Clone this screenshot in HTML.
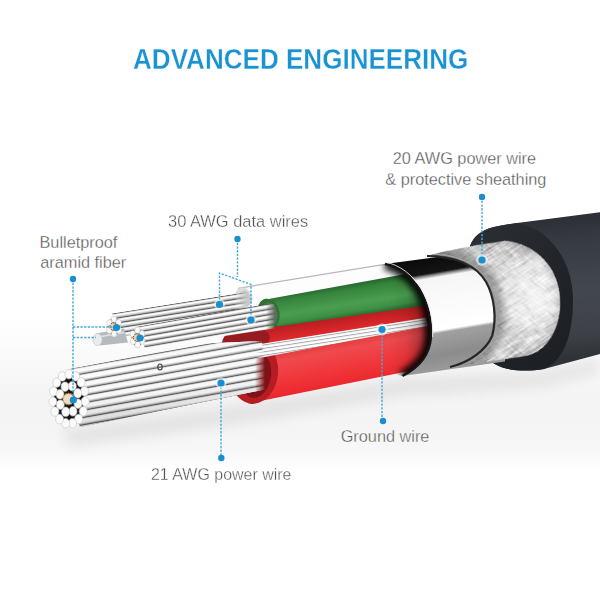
<!DOCTYPE html>
<html><head><meta charset="utf-8">
<style>
html,body{margin:0;padding:0;background:#fff;}
body{width:600px;height:600px;overflow:hidden;position:relative;font-family:"Liberation Sans",sans-serif;}
svg{position:absolute;left:0;top:0;}
.t{position:absolute;color:#555;-webkit-text-stroke:0.3px #fff;font-size:16.3px;white-space:nowrap;line-height:1;transform-origin:0 0;}
h1{position:absolute;margin:0;font-weight:bold;-webkit-text-stroke:0.3px #fff;color:#1a93d3;font-size:29px;white-space:nowrap;line-height:1;transform-origin:0 0;}
</style></head>
<body>
<svg width="600" height="600" viewBox="0 0 600 600">
<defs>
  <linearGradient id="bg" gradientUnits="userSpaceOnUse" x1="0" y1="0" x2="0" y2="600">
    <stop offset="0" stop-color="#ffffff"/>
    <stop offset="0.53" stop-color="#ffffff"/>
    <stop offset="0.6" stop-color="#f9f9f9"/>
    <stop offset="0.67" stop-color="#f4f4f4"/>
    <stop offset="0.72" stop-color="#f5f5f5"/>
    <stop offset="0.755" stop-color="#f8f8f8"/>
    <stop offset="0.772" stop-color="#fcfcfc"/>
    <stop offset="0.785" stop-color="#ffffff"/>
    <stop offset="1" stop-color="#ffffff"/>
  </linearGradient>
  <filter id="blur6" x="-20%" y="-50%" width="140%" height="200%"><feGaussianBlur stdDeviation="7"/></filter>
  <linearGradient id="jk" gradientUnits="userSpaceOnUse" x1="570" y1="211" x2="582" y2="357">
    <stop offset="0" stop-color="#2a2d33"/>
    <stop offset="0.2" stop-color="#363a41"/>
    <stop offset="0.55" stop-color="#43474e"/>
    <stop offset="0.85" stop-color="#3d4147"/>
    <stop offset="1" stop-color="#2f3237"/>
  </linearGradient>
  <linearGradient id="jface" gradientUnits="userSpaceOnUse" x1="480" y1="230" x2="570" y2="330">
    <stop offset="0" stop-color="#2b2e34"/>
    <stop offset="0.5" stop-color="#222529"/>
    <stop offset="1" stop-color="#1d2024"/>
  </linearGradient>
  <linearGradient id="br" gradientUnits="userSpaceOnUse" x1="490" y1="243" x2="505" y2="362">
    <stop offset="0" stop-color="#a6a6a6"/>
    <stop offset="0.2" stop-color="#cacaca"/>
    <stop offset="0.5" stop-color="#dcdcdc"/>
    <stop offset="0.8" stop-color="#cbcbcb"/>
    <stop offset="1" stop-color="#a2a2a2"/>
  </linearGradient>
  <linearGradient id="brx" gradientUnits="userSpaceOnUse" x1="440" y1="0" x2="560" y2="0">
    <stop offset="0" stop-color="#000" stop-opacity="0.22"/>
    <stop offset="0.3" stop-color="#000" stop-opacity="0.04"/>
    <stop offset="0.75" stop-color="#fff" stop-opacity="0.12"/>
    <stop offset="1" stop-color="#fff" stop-opacity="0.05"/>
  </linearGradient>
  <linearGradient id="foil" gradientUnits="userSpaceOnUse" x1="436" y1="255" x2="455.5" y2="370">
    <stop offset="0" stop-color="#0a0a0a"/>
    <stop offset="0.145" stop-color="#141414"/>
    <stop offset="0.165" stop-color="#8a8a8a"/>
    <stop offset="0.19" stop-color="#f6f6f6"/>
    <stop offset="0.64" stop-color="#ffffff"/>
    <stop offset="0.665" stop-color="#a0a0a0"/>
    <stop offset="0.85" stop-color="#8c8c8c"/>
    <stop offset="1" stop-color="#9c9c9c"/>
  </linearGradient>
  <linearGradient id="grn" gradientUnits="userSpaceOnUse" x1="330" y1="288" x2="335" y2="319">
    <stop offset="0" stop-color="#2a6b30"/>
    <stop offset="0.15" stop-color="#35843c"/>
    <stop offset="0.6" stop-color="#4b9e51"/>
    <stop offset="0.85" stop-color="#3e9045"/>
    <stop offset="1" stop-color="#2a6e31"/>
  </linearGradient>
  <linearGradient id="red1" gradientUnits="userSpaceOnUse" x1="330" y1="315" x2="333" y2="335">
    <stop offset="0" stop-color="#b01a1e"/>
    <stop offset="1" stop-color="#e52b2f"/>
  </linearGradient>
  <linearGradient id="red2" gradientUnits="userSpaceOnUse" x1="330" y1="338" x2="340" y2="392">
    <stop offset="0" stop-color="#d8363a"/>
    <stop offset="0.25" stop-color="#ef4a4e"/>
    <stop offset="0.6" stop-color="#f0363a"/>
    <stop offset="0.85" stop-color="#ec2a2e"/>
    <stop offset="1" stop-color="#c81e22"/>
  </linearGradient>
  <linearGradient id="inshadow" gradientUnits="userSpaceOnUse" x1="388" y1="0" x2="434" y2="0">
    <stop offset="0" stop-color="#000" stop-opacity="0"/>
    <stop offset="0.4" stop-color="#000" stop-opacity="0.12"/>
    <stop offset="0.72" stop-color="#000" stop-opacity="0.45"/>
    <stop offset="0.88" stop-color="#000" stop-opacity="0.8"/>
    <stop offset="1" stop-color="#000" stop-opacity="1"/>
  </linearGradient>
  <pattern id="str" patternUnits="userSpaceOnUse" width="60" height="14.8" patternTransform="rotate(-9.8)">
    <rect width="60" height="14.8" fill="#fdfdfd"/>
    <rect y="0.00" width="60" height="0.80" fill="#4e4e4e"/>
    <rect y="0.80" width="60" height="0.80" fill="#9c9c9c"/>
    <rect y="1.60" width="60" height="0.70" fill="#dcdcdc"/>
    <rect y="5.90" width="60" height="0.70" fill="#d2d2d2"/>
    <rect y="6.60" width="60" height="0.80" fill="#a4a4a4"/>
    <rect y="7.40" width="60" height="0.80" fill="#4e4e4e"/>
    <rect y="8.20" width="60" height="0.80" fill="#9c9c9c"/>
    <rect y="9.00" width="60" height="0.70" fill="#dcdcdc"/>
    <rect y="13.30" width="60" height="0.70" fill="#d2d2d2"/>
    <rect y="14.00" width="60" height="0.80" fill="#a4a4a4"/>
  </pattern>
  <pattern id="strd" patternUnits="userSpaceOnUse" width="60" height="10.8" patternTransform="rotate(-9)">
    <rect width="60" height="10.8" fill="#fdfdfd"/>
    <rect y="0.00" width="60" height="0.70" fill="#4e4e4e"/>
    <rect y="0.70" width="60" height="0.70" fill="#a0a0a0"/>
    <rect y="1.40" width="60" height="0.50" fill="#dcdcdc"/>
    <rect y="4.20" width="60" height="0.60" fill="#cfcfcf"/>
    <rect y="4.80" width="60" height="0.60" fill="#a0a0a0"/>
    <rect y="5.40" width="60" height="0.70" fill="#4e4e4e"/>
    <rect y="6.10" width="60" height="0.70" fill="#a0a0a0"/>
    <rect y="6.80" width="60" height="0.50" fill="#dcdcdc"/>
    <rect y="9.60" width="60" height="0.60" fill="#cfcfcf"/>
    <rect y="10.20" width="60" height="0.60" fill="#a0a0a0"/>
  </pattern>
  <pattern id="strg" patternUnits="userSpaceOnUse" width="40" height="3.4" patternTransform="rotate(-8.8)">
    <rect width="40" height="3.4" fill="#fdfdfd"/>
    <rect y="0" width="40" height="0.7" fill="#8a8a8a"/>
    <rect y="0.7" width="40" height="0.4" fill="#cfcfcf"/>
  </pattern>
  <linearGradient id="bshade" gradientUnits="userSpaceOnUse" x1="150" y1="345" x2="158" y2="410">
    <stop offset="0" stop-color="#000" stop-opacity="0.04"/>
    <stop offset="0.3" stop-color="#fff" stop-opacity="0.06"/>
    <stop offset="0.7" stop-color="#000" stop-opacity="0.02"/>
    <stop offset="1" stop-color="#000" stop-opacity="0.12"/>
  </linearGradient>
  <filter id="tex" x="0" y="0" width="1" height="1">
    <feTurbulence type="fractalNoise" baseFrequency="0.05 0.42" numOctaves="3" seed="11" result="n"/>
    <feColorMatrix type="matrix" values="0 0 0 0 1  0 0 0 0 1  0 0 0 0 1  0 0 0 -3.0 1.75" in="n" result="w"/>
    <feComposite in="w" in2="SourceGraphic" operator="in" result="wc"/>
    <feTurbulence type="fractalNoise" baseFrequency="0.07 0.3" numOctaves="2" seed="4" result="n2"/>
    <feColorMatrix type="matrix" values="0 0 0 0 0  0 0 0 0 0  0 0 0 0 0  0 0 0 -1.6 0.78" in="n2" result="d"/>
    <feComposite in="d" in2="SourceGraphic" operator="in" result="dc"/>
    <feTurbulence type="fractalNoise" baseFrequency="0.035" numOctaves="2" seed="19" result="n3"/>
    <feColorMatrix type="matrix" values="0 0 0 0 1  0 0 0 0 1  0 0 0 0 1  0 0 0 -1.8 1.05" in="n3" result="w3"/>
    <feComposite in="w3" in2="SourceGraphic" operator="in" result="w3c"/>
    <feMerge><feMergeNode in="SourceGraphic"/><feMergeNode in="dc"/><feMergeNode in="w3c"/><feMergeNode in="wc"/></feMerge>
  </filter>
  <filter id="tex2" x="0" y="0" width="1" height="1">
    <feTurbulence type="fractalNoise" baseFrequency="0.07 0.45" numOctaves="3" seed="23" result="n"/>
    <feColorMatrix type="matrix" values="0 0 0 0 1  0 0 0 0 1  0 0 0 0 1  0 0 0 -3.0 1.8" in="n" result="w"/>
    <feComposite in="w" in2="SourceGraphic" operator="in" result="wc"/>
    <feTurbulence type="fractalNoise" baseFrequency="0.09 0.3" numOctaves="2" seed="8" result="n2"/>
    <feColorMatrix type="matrix" values="0 0 0 0 0  0 0 0 0 0  0 0 0 0 0  0 0 0 -2.0 1.0" in="n2" result="d"/>
    <feComposite in="d" in2="SourceGraphic" operator="in" result="dc"/>
    <feMerge><feMergeNode in="SourceGraphic"/><feMergeNode in="dc"/><feMergeNode in="wc"/></feMerge>
  </filter>
  <clipPath id="foilclip"><path d="M385,264 C398,266 412,277 420,290 C428,304 432,320 431,337 C430,352 422,366 402.5,376 C375,372 362,348 362,320 C362,290 370,266 385,264 Z"/></clipPath>
  <linearGradient id="fadeR" gradientUnits="userSpaceOnUse" x1="255" y1="0" x2="265" y2="0">
    <stop offset="0" stop-color="#fff"/>
    <stop offset="1" stop-color="#000"/>
  </linearGradient>
  <mask id="bigmask" maskUnits="userSpaceOnUse" x="0" y="0" width="600" height="600">
    <rect x="0" y="0" width="246" height="600" fill="#fff"/>
    <rect x="246" y="0" width="30" height="600" fill="url(#fadeR)"/>
    <path d="M200,346 L262,343 L262,351 L200,356 Z" fill="#fff"/>
  </mask>
  <linearGradient id="fadeW" gradientUnits="userSpaceOnUse" x1="234" y1="0" x2="248" y2="0">
    <stop offset="0" stop-color="#fff"/>
    <stop offset="1" stop-color="#000"/>
  </linearGradient>
  <mask id="b1mask" maskUnits="userSpaceOnUse" x="0" y="0" width="600" height="600">
    <rect x="0" y="0" width="234" height="600" fill="#fff"/>
    <rect x="234" y="0" width="20" height="600" fill="url(#fadeW)"/>
  </mask>
  <linearGradient id="fadeG" gradientUnits="userSpaceOnUse" x1="266" y1="0" x2="275" y2="0">
    <stop offset="0" stop-color="#fff"/>
    <stop offset="1" stop-color="#000"/>
  </linearGradient>
  <mask id="b2mask" maskUnits="userSpaceOnUse" x="0" y="0" width="600" height="600">
    <rect x="0" y="0" width="266" height="600" fill="#fff"/>
    <rect x="266" y="0" width="20" height="600" fill="url(#fadeG)"/>
  </mask>
  <clipPath id="brclip"><path d="M427,256 C445,251 470,246 505,241 C535,243 560,268 560,302 C560,332 545,352 525,356 L450,367 C470,362 486,350 492,336 C497,318 494,296 486,282 C476,265 455,256 427,256 Z"/></clipPath>
  <filter id="blur3" x="-20%" y="-20%" width="140%" height="140%"><feGaussianBlur stdDeviation="3"/></filter>
  <radialGradient id="brhi" gradientUnits="userSpaceOnUse" cx="530" cy="295" r="40">
    <stop offset="0" stop-color="#fff" stop-opacity="0.35"/>
    <stop offset="1" stop-color="#fff" stop-opacity="0"/>
  </radialGradient>
  <clipPath id="bigclip"><path d="M0,0 L600,0 L600,600 L0,600 Z M262,344 L600,300 L600,600 L262,600 Z" clip-rule="evenodd"/></clipPath>
</defs>
<rect width="600" height="600" fill="url(#bg)"/>

<path d="M60,430 L250,404 L400,377 L540,370 L600,356 L600,374 L540,388 L400,396 L250,422 L70,447 Z" fill="#000" opacity="0.07" filter="url(#blur6)"/>
<path d="M470,246 C473,237 481,230 494,227 C500,225.6 508,224.2 517,222.9 L600,212.3 L600,354 L544,369 C520,373 500,369 492,362 Z" fill="url(#jk)"/>
<path d="M470,246 C473,237 481,230 494,227 C500,225.6 508,224.2 517,222.9 C550,228 573,262 573,300 C573,338 562,362 544,369 C520,373 500,369 492,362 Z" fill="url(#jface)"/>
<path d="M238,288 L386,263.8 L420,280 L420,300 L260,312 Z" fill="#fdfdfd"/>
<path d="M238,288.3 L386,264.1" stroke="#b8b8b8" stroke-width="1.3" fill="none"/>
<ellipse cx="243.5" cy="298" rx="9" ry="10.5" transform="rotate(-15 243.5 298)" fill="#dedede"/>
<ellipse cx="245" cy="298.5" rx="6" ry="8" transform="rotate(-15 245 298.5)" fill="#c8c8c8"/>
<path d="M226,334 L270,326 L430,303 L432,330 L262,352 Z" fill="url(#red1)"/>
<ellipse cx="246" cy="340" rx="24" ry="13" transform="rotate(-8 246 340)" fill="#981c1f"/>
<path d="M263,300 L440,267.8 L440,303.6 L278,326.4 Z" fill="url(#grn)"/>
<ellipse cx="268.5" cy="313.5" rx="11" ry="15" transform="rotate(-12 268.5 313.5)" fill="#2b7330"/>
<ellipse cx="270" cy="313.5" rx="7.5" ry="11.5" transform="rotate(-12 270 313.5)" fill="#5b6b5c"/>
<path d="M268,348 L430,325 L432,366.5 L397,373.6 L248,403.4 Z" fill="url(#red2)"/>
<ellipse cx="254.5" cy="373" rx="23.5" ry="31" transform="rotate(8 254.5 373)" fill="#b41d21"/>
<ellipse cx="256" cy="375" rx="15" ry="23" transform="rotate(8 256 375)" fill="#7e1216"/>
<path d="M205,345.5 L262,343.7 L426,317.7 L428,326 L262,357.4 L205,361 Z" fill="url(#strg)"/>
<g clip-path="url(#foilclip)"><rect x="300" y="250" width="140" height="140" fill="url(#inshadow)" opacity="0.6"/><path d="M385,264 C398,266 412,277 420,290 C428,304 432,320 431,337 C430,352 422,366 402.5,376" fill="none" stroke="#000" stroke-width="12" stroke-opacity="0.9" filter="url(#blur3)"/></g>
<path d="M385,264 L505,248 L505,361.5 L402.5,376 C422,366 430,352 431,337 C432,320 428,304 420,290 C412,277 398,266 385,264 Z" fill="url(#foil)"/>
<path d="M385,264 C398,266 412,277 420,290 C428,304 432,320 431,337 C430,352 422,366 402.5,376" fill="none" stroke="#151515" stroke-width="2.4"/>
<path d="M386,262.4 C399,264.4 413.5,275.5 421.5,289 C429.5,303 433.5,320 432.6,337" fill="none" stroke="#ececec" stroke-width="0.9"/>
<g transform="rotate(-32 500 300)"><g filter="url(#tex)"><path transform="rotate(32 500 300)" d="M427,256 C445,251 470,246 505,241 C535,243 560,268 560,302 C560,332 545,352 525,356 L450,367 C470,362 486,350 492,336 C497,318 494,296 486,282 C476,265 455,256 427,256 Z" fill="url(#br)"/></g></g>
<g transform="rotate(40 500 300)" opacity="0.3"><g filter="url(#tex2)"><path transform="rotate(-40 500 300)" d="M427,256 C445,251 470,246 505,241 C535,243 560,268 560,302 C560,332 545,352 525,356 L450,367 C470,362 486,350 492,336 C497,318 494,296 486,282 C476,265 455,256 427,256 Z" fill="url(#br)"/></g></g>
<path d="M427,256 C445,251 470,246 505,241 C535,243 560,268 560,302 C560,332 545,352 525,356 L450,367 C470,362 486,350 492,336 C497,318 494,296 486,282 C476,265 455,256 427,256 Z" fill="url(#brx)"/>
<g clip-path="url(#brclip)"><path d="M433,255 C458,255 478,263.5 488,280.5 C496,294.5 499,317 494,335.5 C488,350 472,362.5 452,367.5" fill="none" stroke="#000" stroke-opacity="0.28" stroke-width="16" filter="url(#blur3)"/><ellipse cx="530" cy="295" rx="30" ry="45" fill="url(#brhi)"/><path d="M505,241 C535,243 560,268 560,302 C560,332 545,352 525,356" fill="none" stroke="#000" stroke-opacity="0.15" stroke-width="6" filter="url(#blur3)"/></g>
<g clip-path="url(#brclip)"><path d="M427,256 C455,256 476,265 486,282 C494,296 497,318 492,336 C486,350 470,362 450,367" fill="none" stroke="#a0a0a0" stroke-width="6"/><path d="M427,256 C455,256 476,265 486,282 C494,296 497,318 492,336 C486,350 470,362 450,367" fill="none" stroke="#6a6a6a" stroke-width="3"/></g>
<path d="M427,256 C455,256 476,265 486,282 C494,296 497,318 492,336 C486,350 470,362 450,367" fill="none" stroke="#262626" stroke-width="2"/>
<clipPath id="b1poly"><path d="M112.0,313.5 L250.0,291.5 L254.0,313.0 L120.0,337.0 Z"/></clipPath><clipPath id="b2poly"><path d="M136.0,327.0 L278.0,302.0 L278.0,328.0 L145.0,348.0 Z"/></clipPath>
<g clip-path="url(#b1poly)" mask="url(#b1mask)">
<path d="M100,315.40 L260,289.96 L260,314.96 L100,340.40 Z" fill="#4f4f4f"/>
<path d="M100,318.25 L260,292.81" stroke="#a2a2a2" stroke-width="4.20"/>
<path d="M100,318.00 L260,292.56" stroke="#d6d6d6" stroke-width="3.10"/>
<path d="M100,317.70 L260,292.26" stroke="#fdfdfd" stroke-width="1.60"/>
<path d="M100,323.25 L260,297.81" stroke="#a2a2a2" stroke-width="4.20"/>
<path d="M100,323.00 L260,297.56" stroke="#d6d6d6" stroke-width="3.10"/>
<path d="M100,322.70 L260,297.26" stroke="#fdfdfd" stroke-width="1.60"/>
<path d="M100,328.25 L260,302.81" stroke="#a2a2a2" stroke-width="4.20"/>
<path d="M100,328.00 L260,302.56" stroke="#d6d6d6" stroke-width="3.10"/>
<path d="M100,327.70 L260,302.26" stroke="#fdfdfd" stroke-width="1.60"/>
<path d="M100,333.25 L260,307.81" stroke="#a2a2a2" stroke-width="4.20"/>
<path d="M100,333.00 L260,307.56" stroke="#d6d6d6" stroke-width="3.10"/>
<path d="M100,332.70 L260,307.26" stroke="#fdfdfd" stroke-width="1.60"/>
<path d="M100,338.25 L260,312.81" stroke="#a2a2a2" stroke-width="4.20"/>
<path d="M100,338.00 L260,312.56" stroke="#d6d6d6" stroke-width="3.10"/>
<path d="M100,337.70 L260,312.26" stroke="#fdfdfd" stroke-width="1.60"/>
</g>
<g clip-path="url(#b2poly)" mask="url(#b2mask)">
<path d="M125,328.60 L285,301.00 L285,327.50 L125,355.10 Z" fill="#4f4f4f"/>
<path d="M125,331.60 L285,304.00" stroke="#a2a2a2" stroke-width="4.50"/>
<path d="M125,331.35 L285,303.75" stroke="#d6d6d6" stroke-width="3.40"/>
<path d="M125,331.05 L285,303.45" stroke="#fdfdfd" stroke-width="1.90"/>
<path d="M125,336.90 L285,309.30" stroke="#a2a2a2" stroke-width="4.50"/>
<path d="M125,336.65 L285,309.05" stroke="#d6d6d6" stroke-width="3.40"/>
<path d="M125,336.35 L285,308.75" stroke="#fdfdfd" stroke-width="1.90"/>
<path d="M125,342.20 L285,314.60" stroke="#a2a2a2" stroke-width="4.50"/>
<path d="M125,341.95 L285,314.35" stroke="#d6d6d6" stroke-width="3.40"/>
<path d="M125,341.65 L285,314.05" stroke="#fdfdfd" stroke-width="1.90"/>
<path d="M125,347.50 L285,319.90" stroke="#a2a2a2" stroke-width="4.50"/>
<path d="M125,347.25 L285,319.65" stroke="#d6d6d6" stroke-width="3.40"/>
<path d="M125,346.95 L285,319.35" stroke="#fdfdfd" stroke-width="1.90"/>
<path d="M125,352.80 L285,325.20" stroke="#a2a2a2" stroke-width="4.50"/>
<path d="M125,352.55 L285,324.95" stroke="#d6d6d6" stroke-width="3.40"/>
<path d="M125,352.25 L285,324.65" stroke="#fdfdfd" stroke-width="1.90"/>
</g>
<path d="M96,333.5 L124,328.5 L128,342.5 L100,345.5 Z" fill="#b4bac0"/>
<path d="M98,337 L124,332.5" stroke="#dfe2e5" stroke-width="1.5"/>
<ellipse cx="97.5" cy="339.5" rx="4.5" ry="6" fill="#e9ebed" stroke="#c9ccd0" stroke-width="0.8"/>
<clipPath id="bigpoly"><path d="M70.0,369.0 L160.0,351.5 L205.0,343.5 L262.0,341.0 L272.0,388.0 L80.0,427.0 Z"/></clipPath>
<g mask="url(#bigmask)"><g clip-path="url(#bigpoly)" >
<path d="M60,370.20 L280,331.04 L280,396.74 L60,435.90 Z" fill="#4f4f4f"/>
<path d="M60,374.20 L280,335.04" stroke="#a2a2a2" stroke-width="6.50"/>
<path d="M60,373.95 L280,334.79" stroke="#d6d6d6" stroke-width="5.40"/>
<path d="M60,373.65 L280,334.49" stroke="#fdfdfd" stroke-width="3.90"/>
<path d="M60,381.50 L280,342.34" stroke="#a2a2a2" stroke-width="6.50"/>
<path d="M60,381.25 L280,342.09" stroke="#d6d6d6" stroke-width="5.40"/>
<path d="M60,380.95 L280,341.79" stroke="#fdfdfd" stroke-width="3.90"/>
<path d="M60,388.80 L280,349.64" stroke="#a2a2a2" stroke-width="6.50"/>
<path d="M60,388.55 L280,349.39" stroke="#d6d6d6" stroke-width="5.40"/>
<path d="M60,388.25 L280,349.09" stroke="#fdfdfd" stroke-width="3.90"/>
<path d="M60,396.10 L280,356.94" stroke="#a2a2a2" stroke-width="6.50"/>
<path d="M60,395.85 L280,356.69" stroke="#d6d6d6" stroke-width="5.40"/>
<path d="M60,395.55 L280,356.39" stroke="#fdfdfd" stroke-width="3.90"/>
<path d="M60,403.40 L280,364.24" stroke="#a2a2a2" stroke-width="6.50"/>
<path d="M60,403.15 L280,363.99" stroke="#d6d6d6" stroke-width="5.40"/>
<path d="M60,402.85 L280,363.69" stroke="#fdfdfd" stroke-width="3.90"/>
<path d="M60,410.70 L280,371.54" stroke="#a2a2a2" stroke-width="6.50"/>
<path d="M60,410.45 L280,371.29" stroke="#d6d6d6" stroke-width="5.40"/>
<path d="M60,410.15 L280,370.99" stroke="#fdfdfd" stroke-width="3.90"/>
<path d="M60,418.00 L280,378.84" stroke="#a2a2a2" stroke-width="6.50"/>
<path d="M60,417.75 L280,378.59" stroke="#d6d6d6" stroke-width="5.40"/>
<path d="M60,417.45 L280,378.29" stroke="#fdfdfd" stroke-width="3.90"/>
<path d="M60,425.30 L280,386.14" stroke="#a2a2a2" stroke-width="6.50"/>
<path d="M60,425.05 L280,385.89" stroke="#d6d6d6" stroke-width="5.40"/>
<path d="M60,424.75 L280,385.59" stroke="#fdfdfd" stroke-width="3.90"/>
<path d="M60,432.60 L280,393.44" stroke="#a2a2a2" stroke-width="6.50"/>
<path d="M60,432.35 L280,393.19" stroke="#d6d6d6" stroke-width="5.40"/>
<path d="M60,432.05 L280,392.89" stroke="#fdfdfd" stroke-width="3.90"/>
</g><path d="M70.0,369.0 L160.0,351.5 L205.0,343.5 L262.0,341.0 L272.0,388.0 L80.0,427.0 Z" fill="url(#bshade)"/></g>
<ellipse cx="160" cy="367" rx="2.2" ry="3" fill="none" stroke="#444" stroke-width="1.2"/>
<ellipse cx="69" cy="399" rx="15.5" ry="24" fill="#141414"/>
<ellipse cx="85.2" cy="401.5" rx="4.0" ry="4.8" fill="#fbfbfb" stroke="#c4c4c4" stroke-width="0.6"/>
<ellipse cx="83.2" cy="411.3" rx="4.0" ry="4.8" fill="#fbfbfb" stroke="#c4c4c4" stroke-width="0.6"/>
<ellipse cx="78.6" cy="419.0" rx="4.0" ry="4.8" fill="#fbfbfb" stroke="#c4c4c4" stroke-width="0.6"/>
<ellipse cx="72.5" cy="423.2" rx="4.0" ry="4.8" fill="#fbfbfb" stroke="#c4c4c4" stroke-width="0.6"/>
<ellipse cx="65.7" cy="423.3" rx="4.0" ry="4.8" fill="#fbfbfb" stroke="#c4c4c4" stroke-width="0.6"/>
<ellipse cx="59.5" cy="419.1" rx="4.0" ry="4.8" fill="#fbfbfb" stroke="#c4c4c4" stroke-width="0.6"/>
<ellipse cx="54.9" cy="411.5" rx="4.0" ry="4.8" fill="#fbfbfb" stroke="#c4c4c4" stroke-width="0.6"/>
<ellipse cx="52.8" cy="401.7" rx="4.0" ry="4.8" fill="#fbfbfb" stroke="#c4c4c4" stroke-width="0.6"/>
<ellipse cx="53.5" cy="391.4" rx="4.0" ry="4.8" fill="#fbfbfb" stroke="#c4c4c4" stroke-width="0.6"/>
<ellipse cx="56.8" cy="382.5" rx="4.0" ry="4.8" fill="#fbfbfb" stroke="#c4c4c4" stroke-width="0.6"/>
<ellipse cx="62.3" cy="376.4" rx="4.0" ry="4.8" fill="#fbfbfb" stroke="#c4c4c4" stroke-width="0.6"/>
<ellipse cx="68.9" cy="374.2" rx="4.0" ry="4.8" fill="#fbfbfb" stroke="#c4c4c4" stroke-width="0.6"/>
<ellipse cx="75.6" cy="376.3" rx="4.0" ry="4.8" fill="#fbfbfb" stroke="#c4c4c4" stroke-width="0.6"/>
<ellipse cx="81.1" cy="382.3" rx="4.0" ry="4.8" fill="#fbfbfb" stroke="#c4c4c4" stroke-width="0.6"/>
<ellipse cx="84.5" cy="391.2" rx="4.0" ry="4.8" fill="#fbfbfb" stroke="#c4c4c4" stroke-width="0.6"/>
<ellipse cx="78.0" cy="403.7" rx="4.0" ry="4.8" fill="#fbfbfb" stroke="#c4c4c4" stroke-width="0.6"/>
<ellipse cx="73.0" cy="411.3" rx="4.0" ry="4.8" fill="#fbfbfb" stroke="#c4c4c4" stroke-width="0.6"/>
<ellipse cx="65.7" cy="411.8" rx="4.0" ry="4.8" fill="#fbfbfb" stroke="#c4c4c4" stroke-width="0.6"/>
<ellipse cx="60.3" cy="404.7" rx="4.0" ry="4.8" fill="#fbfbfb" stroke="#c4c4c4" stroke-width="0.6"/>
<ellipse cx="60.0" cy="394.3" rx="4.0" ry="4.8" fill="#fbfbfb" stroke="#c4c4c4" stroke-width="0.6"/>
<ellipse cx="65.0" cy="386.7" rx="4.0" ry="4.8" fill="#fbfbfb" stroke="#c4c4c4" stroke-width="0.6"/>
<ellipse cx="72.3" cy="386.2" rx="4.0" ry="4.8" fill="#fbfbfb" stroke="#c4c4c4" stroke-width="0.6"/>
<ellipse cx="77.7" cy="393.3" rx="4.0" ry="4.8" fill="#fbfbfb" stroke="#c4c4c4" stroke-width="0.6"/>
<circle cx="68.5" cy="399" r="5.6" fill="#f1dcc0" stroke="#d4954f" stroke-width="1.3" stroke-dasharray="1.4,1.1"/>
<ellipse cx="114" cy="326.5" rx="6" ry="9" fill="#5a4a3a"/>
<ellipse cx="118.7" cy="330.0" rx="2.7" ry="3.3" fill="#fbfbfb" stroke="#c4c4c4" stroke-width="0.6"/>
<ellipse cx="114.1" cy="333.7" rx="2.7" ry="3.3" fill="#fbfbfb" stroke="#c4c4c4" stroke-width="0.6"/>
<ellipse cx="109.5" cy="330.2" rx="2.7" ry="3.3" fill="#fbfbfb" stroke="#c4c4c4" stroke-width="0.6"/>
<ellipse cx="109.3" cy="323.0" rx="2.7" ry="3.3" fill="#fbfbfb" stroke="#c4c4c4" stroke-width="0.6"/>
<ellipse cx="113.9" cy="319.3" rx="2.7" ry="3.3" fill="#fbfbfb" stroke="#c4c4c4" stroke-width="0.6"/>
<ellipse cx="118.5" cy="322.8" rx="2.7" ry="3.3" fill="#fbfbfb" stroke="#c4c4c4" stroke-width="0.6"/>
<circle cx="113.5" cy="326.5" r="3.6" fill="#ecd2ad" stroke="#8a5a2a" stroke-width="1.1" stroke-dasharray="1.1,1.2"/>
<ellipse cx="137.5" cy="337.5" rx="6" ry="9" fill="#5a4a3a"/>
<ellipse cx="142.2" cy="341.0" rx="2.7" ry="3.3" fill="#fbfbfb" stroke="#c4c4c4" stroke-width="0.6"/>
<ellipse cx="137.6" cy="344.7" rx="2.7" ry="3.3" fill="#fbfbfb" stroke="#c4c4c4" stroke-width="0.6"/>
<ellipse cx="133.0" cy="341.2" rx="2.7" ry="3.3" fill="#fbfbfb" stroke="#c4c4c4" stroke-width="0.6"/>
<ellipse cx="132.8" cy="334.0" rx="2.7" ry="3.3" fill="#fbfbfb" stroke="#c4c4c4" stroke-width="0.6"/>
<ellipse cx="137.4" cy="330.3" rx="2.7" ry="3.3" fill="#fbfbfb" stroke="#c4c4c4" stroke-width="0.6"/>
<ellipse cx="142.0" cy="333.8" rx="2.7" ry="3.3" fill="#fbfbfb" stroke="#c4c4c4" stroke-width="0.6"/>
<circle cx="137" cy="337.5" r="3.6" fill="#ecd2ad" stroke="#8a5a2a" stroke-width="1.1" stroke-dasharray="1.1,1.2"/>
<g stroke="#45a8d4" stroke-width="1.4" stroke-dasharray="2.3,1.4" fill="none">
  <path d="M482,197 V260"/>
  <path d="M237.5,239 V277"/>
  <path d="M219.5,304 V273 L251,284.5 V320"/>
  <path d="M73,279 V400"/>
  <path d="M73,327 H113"/>
  <path d="M73,337.5 H96"/>
  <path d="M221,383 V458"/>
  <path d="M382,329.5 V421"/>
</g>
<g fill="#fff" opacity="0.55">
  <circle cx="482" cy="260" r="6"/><circle cx="382" cy="329.5" r="6"/><circle cx="221" cy="383" r="5.5"/>
  <circle cx="219.5" cy="304.5" r="5.5"/><circle cx="251" cy="320" r="5.5"/>
</g>
<g fill="#1a8fd0">
  <circle cx="482" cy="197" r="3.2"/>
  <circle cx="482" cy="260" r="3.6"/>
  <circle cx="237.5" cy="239" r="3.2"/>
  <circle cx="219.5" cy="304.5" r="3.6"/>
  <circle cx="251" cy="320" r="3.6"/>
  <circle cx="73" cy="279" r="3.2"/>
  <circle cx="116.5" cy="327.5" r="3.6"/>
  <circle cx="140" cy="338" r="3.6"/>
  <circle cx="73.3" cy="400" r="3.6"/>
  <circle cx="221" cy="383" r="3.6"/>
  <circle cx="221.3" cy="458" r="3.2"/>
  <circle cx="382" cy="329.5" r="3.6"/>
  <circle cx="383" cy="421" r="3.2"/>
</g>
</svg>

<h1 id="title" style="left:132.8px;top:45.3px;transform:scaleX(0.8985)">ADVANCED ENGINEERING</h1>
<div class="t" id="l1" style="left:392.8px;top:150px;transform:scaleX(1.0)">20 AWG power wire</div>
<div class="t" id="l2" style="left:385.3px;top:170.5px;transform:scaleX(1.0)">&amp; protective sheathing</div>
<div class="t" id="l3" style="left:167.8px;top:213px;transform:scaleX(1.01)">30 AWG data wires</div>
<div class="t" id="l4" style="left:39.5px;top:233.6px;transform:scaleX(1.0)">Bulletproof</div>
<div class="t" id="l5" style="left:40.3px;top:253.8px;transform:scaleX(1.0)">aramid fiber</div>
<div class="t" id="l6" style="left:151.2px;top:465.6px;transform:scaleX(0.98)">21 AWG power wire</div>
<div class="t" id="l7" style="left:340.7px;top:428.2px;transform:scaleX(1.0)">Ground wire</div>
</body></html>
